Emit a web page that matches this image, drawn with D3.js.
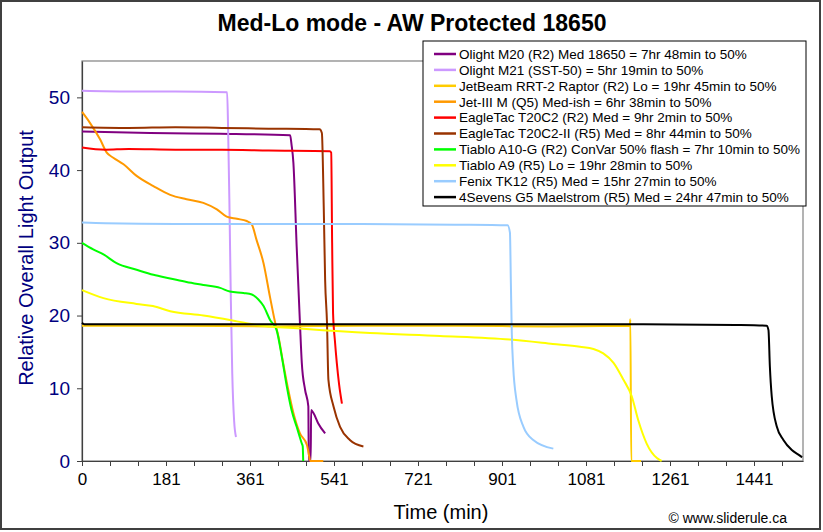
<!DOCTYPE html>
<html>
<head>
<meta charset="utf-8">
<script src="https://cdn.jsdelivr.net/npm/d3@7"></script>
<style>
  html, body { margin: 0; padding: 0; background: #fff; }
  svg { display: block; font-family: "Liberation Sans", Arial, sans-serif; }
</style>
</head>
<body>
<svg id="chart" width="823" height="532"></svg>
<script>
// ---------- DATA ----------
const chartTitle = "Med-Lo mode - AW Protected 18650";
const xTitle = "Time (min)";
const yTitle = "Relative Overall Light Output";
const credit = "\u00A9 www.sliderule.ca";

const xTickMinutes = [0, 180, 360, 540, 720, 900, 1080, 1260, 1440];
const xTickLabels = ["0", "181", "361", "541", "721", "901", "1081", "1261", "1441"];
const yTickValues = [0, 10, 20, 30, 40, 50];

const seriesNames = [
  "Olight M20 (R2) Med 18650 = 7hr 48min to 50%",
  "Olight M21 (SST-50) = 5hr 19min to 50%",
  "JetBeam RRT-2 Raptor (R2) Lo = 19hr 45min to 50%",
  "Jet-III M (Q5) Med-ish = 6hr 38min to 50%",
  "EagleTac T20C2 (R2) Med = 9hr 2min to 50%",
  "EagleTac T20C2-II (R5) Med = 8hr 44min to 50%",
  "Tiablo A10-G (R2) ConVar 50% flash = 7hr 10min to 50%",
  "Tiablo A9 (R5) Lo = 19hr 28min to 50%",
  "Fenix TK12 (R5) Med = 15hr 27min to 50%",
  "4Sevens G5 Maelstrom (R5) Med = 24hr 47min to 50%"
];
const seriesColors = ["#800080", "#CC99FF", "#FFCC00", "#FF9900", "#FF0000",
                      "#993300", "#00FF00", "#FFFF00", "#99CCFF", "#000000"];

// [minute, relative output]
const olightM20 = [[0,45.3],[146,45.1],[296,45.0],[446,44.8],[449,43.5],[453,41],[460,29.5],[467,19],[471,13.5],[478,9.8],[485,7.5],[486,0],[490,0],[491,7.0],[496,6.6],[506,5.2],[521,3.8]];
const olightM21 = [[0,50.9],[100,50.8],[200,50.8],[311,50.7],[313,46],[316,35],[319,22],[322,12],[326,5.5],[330,3.3]];
const jetbeamRRT2 = [[0,18.6],[200,18.6],[400,18.5],[600,18.6],[800,18.6],[1000,18.5],[1174,18.6],[1175,19.5],[1177,0],[1198,0]];
const jet3M = [[0,48.0],[17,46.5],[39,44.2],[53,42.4],[67,41.7],[89,40.8],[117,39.2],[153,37.8],[189,36.6],[224,36.0],[260,35.5],[289,34.6],[310,33.6],[332,33.3],[353,33.0],[364,32.5],[374,30.4],[389,27.2],[403,22.5],[414,19.0],[421,17.1],[431,13.5],[442,9.8],[453,6.6],[467,3.8],[482,2.2],[487,0.6],[489,0],[517,0]];
const eagleT20C2 = [[0,43.1],[50,42.8],[100,42.9],[200,42.8],[300,42.8],[400,42.7],[531,42.6],[534,42.4],[536,30],[538,20.3],[542,16.5],[546,13.5],[551,10.5],[557,7.9]];
const eagleT20C2II = [[0,45.9],[100,45.8],[200,45.9],[300,45.8],[400,45.7],[509,45.6],[514,45.1],[518,35],[521,24.9],[525,19.0],[528,11.2],[539,7.5],[553,4.7],[574,2.9],[603,2.0]];
const tiabloA10G = [[0,30.0],[24,29.1],[46,28.4],[74,27.2],[117,26.3],[153,25.6],[189,25.1],[224,24.6],[260,24.2],[296,23.8],[317,23.3],[346,23.1],[364,22.9],[378,22.2],[389,21.3],[403,19.4],[417,18.0],[428,14.4],[439,10.2],[449,7.0],[460,4.7],[471,2.4],[473,2.0],[474,0]];
const tiabloA9 = [[0,23.5],[46,22.4],[117,21.6],[152,21.3],[189,20.6],[260,20.0],[332,19.2],[374,18.7],[474,18.2],[617,17.6],[767,17.2],[917,16.7],[1009,16.1],[1067,15.7],[1096,15.4],[1117,14.8],[1139,13.5],[1160,11.2],[1178,8.9],[1192,5.6],[1210,2.4],[1232,0.4],[1242,0]];
const fenixTK12 = [[0,32.8],[50,32.7],[200,32.6],[400,32.6],[600,32.6],[800,32.5],[912,32.4],[917,31.4],[919,24.5],[921,17.6],[924,13.0],[931,8.4],[946,4.7],[967,2.9],[1010,1.7]];
const foursevensG5 = [[0,19.0],[5,18.8],[200,18.8],[400,18.8],[600,18.8],[800,18.8],[1000,18.8],[1200,18.8],[1400,18.7],[1467,18.6],[1471,18.0],[1474,13.0],[1478,8.9],[1489,4.7],[1503,2.9],[1521,1.5],[1539,0.7],[1543,0.5]];

const seriesData = [olightM20, olightM21, jetbeamRRT2, jet3M, eagleT20C2,
                    eagleT20C2II, tiabloA10G, tiabloA9, fenixTK12, foursevensG5];

// ---------- DRAW ----------
const svg = d3.select("#chart");
const W = 823, H = 532;
const plot = { left: 82, right: 803, top: 61, bottom: 461 };

svg.append("rect").attr("x", 0).attr("y", 0).attr("width", W).attr("height", H).attr("fill", "#fff");
svg.append("rect").attr("x", 1).attr("y", 1).attr("width", W - 4).attr("height", H - 4)
  .attr("fill", "none").attr("stroke", "#404040").attr("stroke-width", 2);

const x = d3.scaleLinear().domain([0, 1545]).range([plot.left, plot.right]);
const y = d3.scaleLinear().domain([0, 55]).range([plot.bottom, plot.top]);

// plot frame
svg.append("rect").attr("x", plot.left).attr("y", plot.top)
  .attr("width", plot.right - plot.left).attr("height", plot.bottom - plot.top)
  .attr("fill", "#fff").attr("stroke", "#808080").attr("stroke-width", 1.2);

// axes
const xAxis = d3.axisBottom(x)
  .tickValues(d3.range(0, 1545, 60))
  .tickSize(5).tickSizeOuter(0)
  .tickFormat(d => { const i = xTickMinutes.indexOf(d); return i >= 0 ? xTickLabels[i] : ""; });
const gx = svg.append("g").attr("transform", `translate(0,${plot.bottom})`).call(xAxis);
gx.select(".domain").attr("stroke", "#404040").attr("stroke-width", 1.2);
gx.selectAll(".tick line").attr("stroke", "#404040");
gx.selectAll(".tick text").attr("font-size", 17).attr("fill", "#000").attr("dy", "0.95em")
  .attr("font-family", "'Liberation Sans', Arial, sans-serif");

const yAxis = d3.axisLeft(y).tickValues(yTickValues).tickSize(5).tickSizeOuter(0);
const gy = svg.append("g").attr("transform", `translate(${plot.left},0)`).call(yAxis);
gy.select(".domain").attr("stroke", "#404040").attr("stroke-width", 1.2);
gy.selectAll(".tick line").attr("stroke", "#404040");
gy.selectAll(".tick text").attr("font-size", 19).attr("fill", "#000080").attr("x", -12)
  .attr("font-family", "'Liberation Sans', Arial, sans-serif");

// lines
const line = d3.line().x(d => x(d[0])).y(d => y(d[1])).curve(d3.curveMonotoneX);
const gl = svg.append("g");
seriesData.forEach((s, i) => {
  gl.append("path").datum(s).attr("d", line)
    .attr("fill", "none").attr("stroke", seriesColors[i])
    .attr("stroke-width", 2).attr("stroke-linejoin", "round");
});

// titles
svg.append("text").attr("x", 412).attr("y", 31).attr("text-anchor", "middle")
  .attr("font-size", 23).attr("font-weight", "bold").attr("fill", "#000").text(chartTitle);
svg.append("text").attr("x", 441).attr("y", 519).attr("text-anchor", "middle")
  .attr("font-size", 20).attr("fill", "#000").text(xTitle);
svg.append("text").attr("transform", "translate(33,258) rotate(-90)").attr("text-anchor", "middle")
  .attr("font-size", 20).attr("fill", "#000080").text(yTitle);
svg.append("text").attr("x", 787).attr("y", 523).attr("text-anchor", "end")
  .attr("font-size", 14).attr("fill", "#000").text(credit);

// legend
const lg = svg.append("g");
lg.append("rect").attr("x", 423).attr("y", 41).attr("width", 383).attr("height", 165)
  .attr("fill", "#fff").attr("stroke", "#000").attr("stroke-width", 1);
seriesNames.forEach((n, i) => {
  const yy = 54 + i * 15.9;
  lg.append("line").attr("x1", 434).attr("x2", 456).attr("y1", yy).attr("y2", yy)
    .attr("stroke", seriesColors[i]).attr("stroke-width", 2.5);
  lg.append("text").attr("x", 459).attr("y", yy).attr("dy", "0.36em")
    .attr("font-size", 13.5).attr("fill", "#000").text(n);
});
</script>
</body>
</html>
